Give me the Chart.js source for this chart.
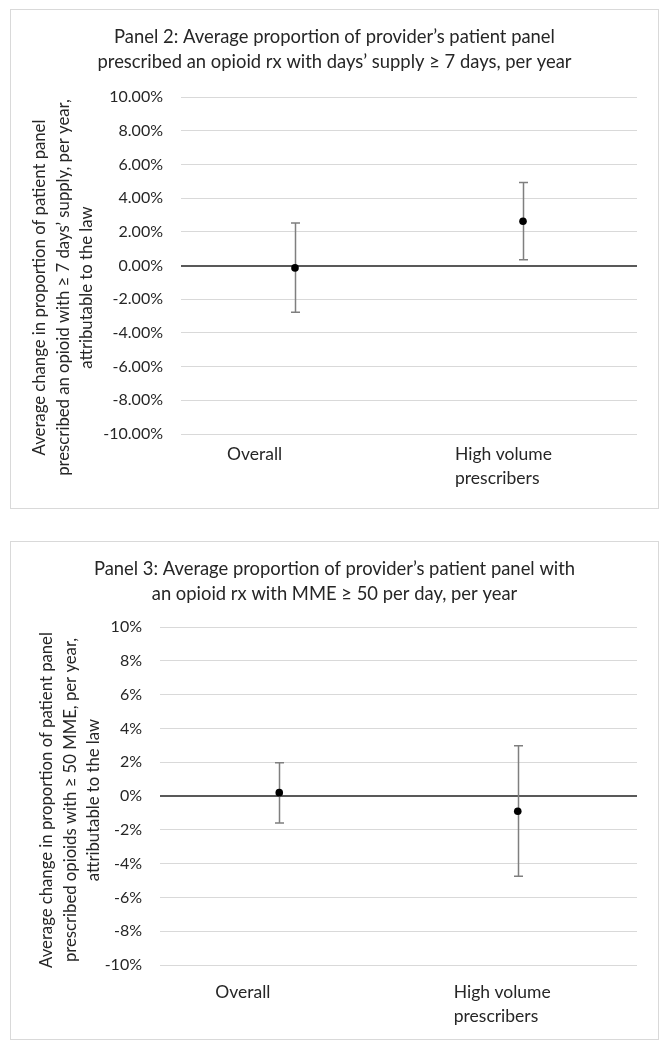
<!DOCTYPE html>
<html>
<head>
<meta charset="utf-8">
<script src="https://cdn.jsdelivr.net/npm/chart.js@4.4.1/dist/chart.umd.min.js"></script>
<style>
  html, body { margin: 0; padding: 0; background: #ffffff; }
  body { width: 668px; height: 1050px; position: relative; overflow: hidden; }
  .panel { position: absolute; left: 10px; width: 649px; border: 1px solid #d9d9d9; box-sizing: border-box; background: #fff; }
  #p1 { top: 9px; height: 500px; }
  #p2 { top: 541px; height: 499px; }
  canvas { display: block; position: absolute; left: -1px; top: -1px; }
</style>
</head>
<body>
<div class="panel" id="p1"><canvas id="c1" width="649" height="500"></canvas></div>
<div class="panel" id="p2"><canvas id="c2" width="649" height="499"></canvas></div>
<script>
// ---- data ----
const categories = ['Overall', ['High volume', 'prescribers']];

const panel2Title = ['Panel 2: Average proportion of provider\u2019s patient panel',
                     'prescribed an opioid rx with days\u2019 supply \u2265 7 days, per year'];
const panel2AxisTitle = ['Average change in proportion of patient panel',
                         'prescribed an opioid with \u2265 7 days\u2019 supply, per year,',
                         'attributable to the law'];
const panel2Estimate = [-0.14, 2.63];
const panel2Lower    = [-2.77, 0.34];
const panel2Upper    = [2.53, 4.93];

const panel3Title = ['Panel 3: Average proportion of provider\u2019s patient panel with',
                     'an opioid rx with MME \u2265 50 per day, per year'];
const panel3AxisTitle = ['Average change in proportion of patient panel',
                         'prescribed opioids with \u2265 50 MME, per year,',
                         'attributable to the law'];
const panel3Estimate = [0.2, -0.9];
const panel3Lower    = [-1.59, -4.75];
const panel3Upper    = [1.97, 2.97];

const yTickValues = [-10, -8, -6, -4, -2, 0, 2, 4, 6, 8, 10];
const panel2TickLabels = ['-10.00%', '-8.00%', '-6.00%', '-4.00%', '-2.00%', '0.00%', '2.00%', '4.00%', '6.00%', '8.00%', '10.00%'];
const panel3TickLabels = ['-10%', '-8%', '-6%', '-4%', '-2%', '0%', '2%', '4%', '6%', '8%', '10%'];

const FONT = 'Lato, "Open Sans", sans-serif';
const TEXT = '#262626';

// ---- plugin: error bars ----
const errorBars = {
  id: 'errorBars',
  beforeDatasetsDraw(chart, args, opts) {
    const ctx = chart.ctx;
    const y = chart.scales.y;
    const meta = chart.getDatasetMeta(0);
    ctx.save();
    ctx.strokeStyle = opts.color;
    ctx.lineWidth = opts.width;
    meta.data.forEach((pt, i) => {
      const px = Math.round(pt.x) + 0.5;
      const yl = y.getPixelForValue(opts.lower[i]);
      const yu = y.getPixelForValue(opts.upper[i]);
      ctx.beginPath();
      ctx.moveTo(px, yl); ctx.lineTo(px, yu);
      ctx.moveTo(px - opts.cap, yl); ctx.lineTo(px + opts.cap, yl);
      ctx.moveTo(px - opts.cap, yu); ctx.lineTo(px + opts.cap, yu);
      ctx.stroke();
    });
    ctx.restore();
  }
};

// ---- plugin: rotated multi-line y-axis title ----
const yAxisTitle = {
  id: 'yAxisTitle',
  afterDraw(chart, args, opts) {
    const ctx = chart.ctx;
    const a = chart.chartArea;
    const cy = (a.top + a.bottom) / 2 + opts.shift;
    ctx.save();
    ctx.fillStyle = opts.color;
    ctx.font = opts.size + 'px ' + FONT;
    ctx.textAlign = 'center';
    ctx.textBaseline = 'middle';
    opts.text.forEach((line, i) => {
      ctx.save();
      ctx.translate(opts.x + i * opts.lineHeight, cy);
      ctx.rotate(-Math.PI / 2);
      ctx.fillText(line, 0, 0);
      ctx.restore();
    });
    ctx.restore();
  }
};

function makeChart(id, cfg) {
  return new Chart(document.getElementById(id), {
    type: 'line',
    data: {
      labels: categories,
      datasets: [{
        data: cfg.estimate,
        showLine: false,
        pointRadius: 3.8,
        pointHoverRadius: 3.8,
        pointBackgroundColor: '#000000',
        pointBorderColor: '#000000',
        pointBorderWidth: 0
      }]
    },
    options: {
      responsive: false,
      animation: false,
      events: [],
      layout: { padding: 0 },
      plugins: {
        legend: { display: false },
        tooltip: { enabled: false },
        title: {
          display: true,
          text: cfg.title,
          color: TEXT,
          font: { family: FONT, size: 18.4, weight: 'normal', lineHeight: 1.36 },
          padding: { top: 15.5, bottom: cfg.titleBottom }
        },
        errorBars: { lower: cfg.lower, upper: cfg.upper, color: '#7f7f7f', width: 1.5, cap: 4.5 },
        yAxisTitle: { text: cfg.axisTitle, x: cfg.axisTitleX, lineHeight: 23.5, shift: cfg.axisTitleShift, size: 16.7, color: TEXT }
      },
      scales: {
        x: {
          type: 'category',
          offset: true,
          grid: { display: false, drawTicks: false },
          border: { display: false },
          ticks: {
            color: TEXT,
            font: { family: FONT, size: 17.5, lineHeight: 1.4 },
            padding: cfg.xPad,
            align: 'start',
            labelOffset: cfg.labelOffset,
            maxRotation: 0,
            autoSkip: false
          },
          afterFit: s => { s.height = cfg.xHeight; }
        },
        y: {
          min: -10, max: 10,
          afterBuildTicks: s => { s.ticks = yTickValues.map(v => ({ value: v })); },
          grid: {
            drawTicks: false,
            color: c => (c.tick && c.tick.value === 0) ? '#595959' : '#d9d9d9',
            lineWidth: c => (c.tick && c.tick.value === 0) ? 2 : 1
          },
          border: { display: false },
          ticks: {
            color: TEXT,
            font: { family: FONT, size: 16 },
            padding: 18,
            callback: (v) => cfg.tickLabels[yTickValues.indexOf(v)]
          },
          afterFit: s => { s.width = cfg.yWidth; }
        },
        yRight: {
          position: 'right',
          display: true,
          grid: { display: false, drawTicks: false },
          border: { display: false },
          ticks: { display: false },
          afterFit: s => { s.width = 22; }
        }
      }
    },
    plugins: [errorBars, yAxisTitle]
  });
}

makeChart('c1', {
  title: panel2Title, axisTitle: panel2AxisTitle, tickLabels: panel2TickLabels,
  estimate: panel2Estimate, lower: panel2Lower, upper: panel2Upper,
  titleBottom: 22.5, yWidth: 171, xHeight: 75, xPad: 8, labelOffset: -68,
  axisTitleX: 30, axisTitleShift: 22
});
makeChart('c2', {
  title: panel3Title, axisTitle: panel3AxisTitle, tickLabels: panel3TickLabels,
  estimate: panel3Estimate, lower: panel3Lower, upper: panel3Upper,
  titleBottom: 20.5, yWidth: 150, xHeight: 75, xPad: 15, labelOffset: -64,
  axisTitleX: 37, axisTitleShift: 4
});
</script>
</body>
</html>
